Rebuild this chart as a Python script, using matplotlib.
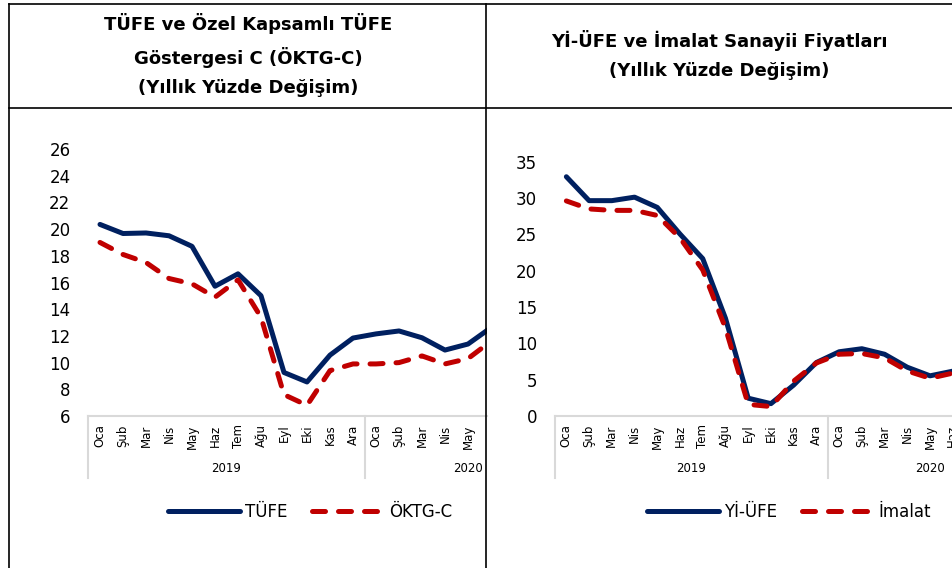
import matplotlib
matplotlib.use("Agg")
import matplotlib.pyplot as plt
import matplotlib.transforms as mtransforms
from matplotlib.lines import Line2D

plt.rcParams['font.family'] = ['DejaVu Sans']

# data
months = ['Oca', 'Şub', 'Mar', 'Nis', 'May', 'Haz', 'Tem', 'Ağu', 'Eyl', 'Eki', 'Kas', 'Ara',
          'Oca', 'Şub', 'Mar', 'Nis', 'May', 'Haz']
year_groups = [('2019', 0, 11), ('2020', 12, 20)]

tufe = [20.35, 19.67, 19.71, 19.50, 18.71, 15.72, 16.65, 15.01, 9.26, 8.55, 10.56, 11.84,
        12.15, 12.37, 11.86, 10.94, 11.39, 12.62]
oktg_c = [19.0, 18.1, 17.5, 16.3, 15.9, 14.9, 16.2, 13.4, 7.6, 6.8, 9.4, 9.9,
          9.9, 10.0, 10.5, 9.9, 10.3, 11.6]

yiufe = [32.93, 29.64, 29.64, 30.12, 28.71, 25.04, 21.66, 13.45, 2.45, 1.70, 4.26, 7.36,
         8.84, 9.26, 8.50, 6.71, 5.53, 6.17]
imalat = [29.6, 28.5, 28.3, 28.3, 27.6, 24.5, 20.1, 12.1, 1.6, 1.3, 4.8, 7.3,
          8.5, 8.6, 8.0, 6.2, 5.2, 5.9]

BLUE = '#002060'
RED = '#C00000'
GRAY = '#D9D9D9'

W, H = 953, 568
fig = plt.figure(figsize=(W / 100, H / 100), dpi=100)


def fx(px):
    return px / W


def fy(py):
    return 1 - py / H


def make_panel(left, right, top, bottom, cat_w, series, labels, yticks, ylim):
    ax = fig.add_axes([fx(left), fy(bottom), (right - left) / W, (bottom - top) / H])
    x = list(range(len(months)))
    s1, s2 = series
    ax.plot(x, s1, color=BLUE, lw=3.6, solid_joinstyle='round', solid_capstyle='round',
            label=labels[0])
    ax.plot(x, s2, color=RED, lw=3.6, dashes=(2.6, 2.6), dash_capstyle='round',
            dash_joinstyle='round', label=labels[1])
    xmax = -0.5 + (right - left) / cat_w
    ax.set_xlim(-0.5, xmax)
    ax.set_ylim(*ylim)
    ax.set_yticks(yticks)
    shown = [i for i in x if i <= xmax + 0.05]
    ax.set_xticks(shown)
    ax.set_xticklabels([months[i] for i in shown], rotation=90, fontsize=8.5, va='top')
    ax.tick_params(axis='x', length=0, pad=6)
    ax.tick_params(axis='y', length=0, pad=13, labelsize=12)
    for sp in ['top', 'right', 'left']:
        ax.spines[sp].set_visible(False)
    ax.spines['bottom'].set_color(GRAY)
    ax.spines['bottom'].set_linewidth(1.5)

    # year grouping box below the month labels
    hpx = bottom - top
    tr = mtransforms.blended_transform_factory(ax.transData, ax.transAxes)
    for _, a, b in year_groups:
        ax.plot([a - 0.5, a - 0.5], [0, -62 / hpx], transform=tr, color=GRAY, lw=1.5,
                clip_on=False)
    for name, a, b in year_groups:
        ax.text((a + b) / 2, -53 / hpx, name, transform=tr, ha='center', va='center',
                fontsize=8.5, clip_on=False)
    return ax


ax1 = make_panel(88.5, 487, 149, 416, 23.0, (tufe, oktg_c), ('TÜFE', 'ÖKTG-C'),
                 range(6, 27, 2), (6, 26))
ax2 = make_panel(555, 953, 161.7, 416, 22.73, (yiufe, imalat), ('Yİ-ÜFE', 'İmalat'),
                 range(0, 36, 5), (0, 35))

for ax, cx in [(ax1, 310), (ax2, 789)]:
    h, l = ax.get_legend_handles_labels()
    fig.legend(h, l, loc='center', bbox_to_anchor=(fx(cx), fy(512)), ncol=2,
               frameon=False, fontsize=12, handlelength=4.3, handletextpad=0.3,
               columnspacing=1.5)

# titles
fig.text(fx(248), fy(55), 'TÜFE ve Özel Kapsamlı TÜFE\nGöstergesi C (ÖKTG-C)\n(Yıllık Yüzde Değişim)',
         ha='center', va='center', fontsize=13, fontweight='bold', linespacing=1.75)
fig.text(fx(719), fy(55), 'Yİ-ÜFE ve İmalat Sanayii Fiyatları\n(Yıllık Yüzde Değişim)',
         ha='center', va='center', fontsize=13, fontweight='bold', linespacing=1.75)

# table borders
for xs, ys in [([9, 953], [4, 4]), ([9, 953], [108, 108]), ([9, 9], [4, 568]),
               ([486, 486], [4, 568])]:
    fig.add_artist(Line2D([fx(v) for v in xs], [fy(v) for v in ys], color='black', lw=1.2))

fig.savefig('out.png', dpi=100)
